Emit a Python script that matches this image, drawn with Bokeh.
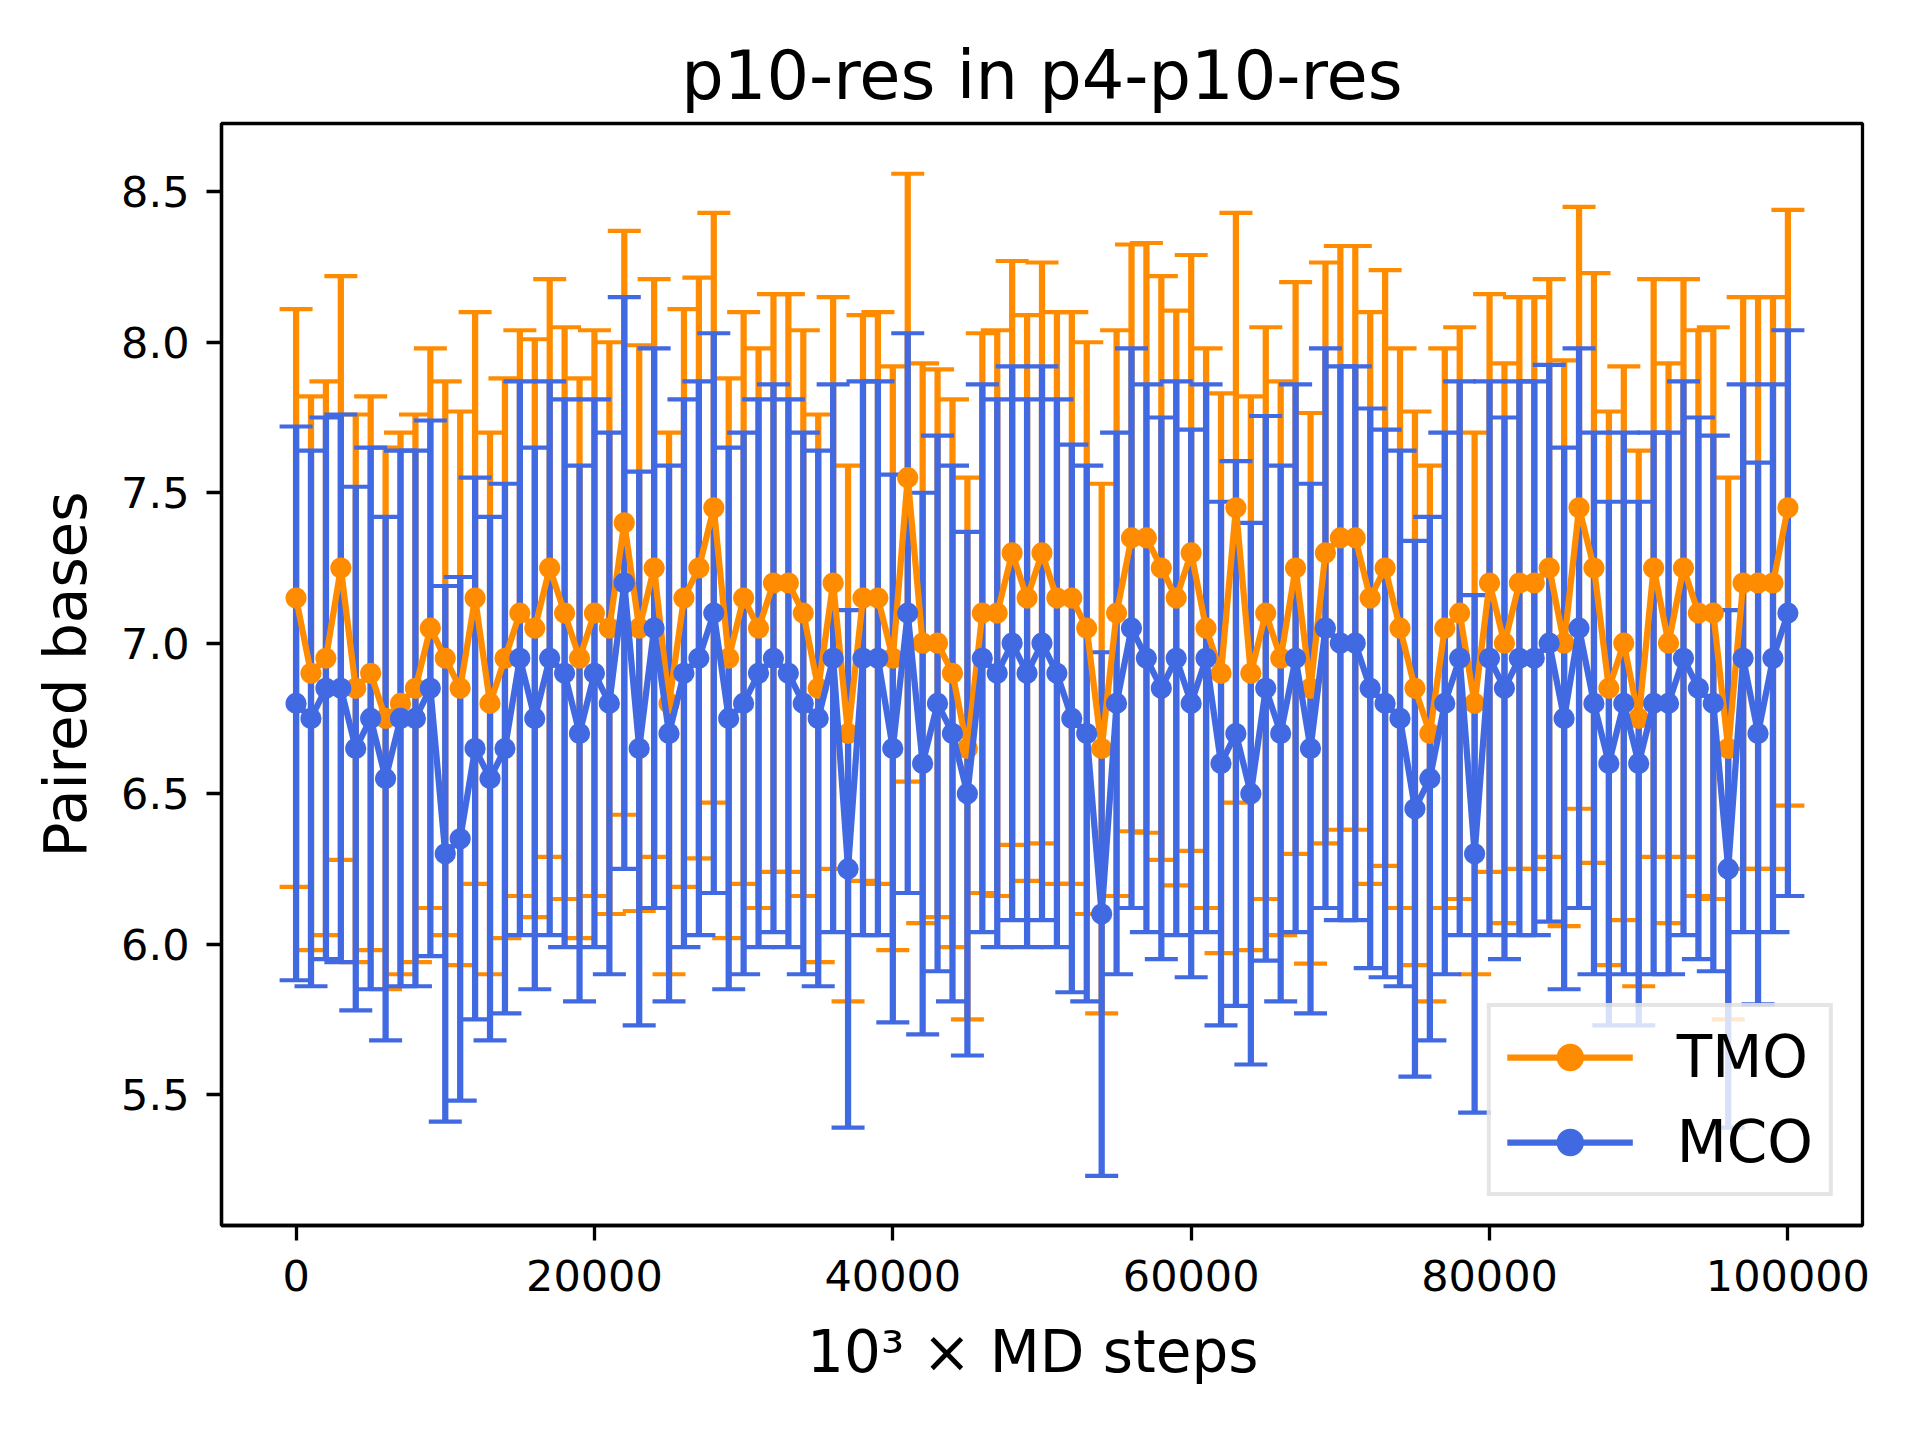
from bokeh.plotting import figure
from bokeh.models import Range1d, Legend, LegendItem, FixedTicker, BasicTickFormatter, PrintfTickFormatter, ColumnDataSource
from bokeh.embed import file_html
from bokeh.resources import INLINE

steps = list(range(0, 100001, 1000))

tmo_mean = [7.15, 6.90, 6.95, 7.25, 6.85, 6.90, 6.75, 6.80, 6.85, 7.05,
            6.95, 6.85, 7.15, 6.80, 6.95, 7.10, 7.05, 7.25, 7.10, 6.95,
            7.10, 7.05, 7.40, 7.05, 7.25, 6.80, 7.15, 7.25, 7.45, 6.95,
            7.15, 7.05, 7.20, 7.20, 7.10, 6.85, 7.20, 6.70, 7.15, 7.15,
            6.95, 7.55, 7.00, 7.00, 6.90, 6.65, 7.10, 7.10, 7.30, 7.15,
            7.30, 7.15, 7.15, 7.05, 6.65, 7.10, 7.35, 7.35, 7.25, 7.15,
            7.30, 7.05, 6.90, 7.45, 6.90, 7.10, 6.95, 7.25, 6.85, 7.30,
            7.35, 7.35, 7.15, 7.25, 7.05, 6.85, 6.70, 7.05, 7.10, 6.80,
            7.20, 7.00, 7.20, 7.20, 7.25, 7.00, 7.45, 7.25, 6.85, 7.00,
            6.75, 7.25, 7.00, 7.25, 7.10, 7.10, 6.65, 7.20, 7.20, 7.20,
            7.45]
tmo_std = [0.96, 0.92, 0.92, 0.97, 0.91, 0.92, 0.90, 0.90, 0.91, 0.93,
           0.92, 0.92, 0.95, 0.90, 0.93, 0.94, 0.96, 0.96, 0.95, 0.93,
           0.94, 0.95, 0.97, 0.94, 0.96, 0.90, 0.96, 0.965, 0.98, 0.93,
           0.95, 0.93, 0.96, 0.96, 0.94, 0.91, 0.95, 0.89, 0.94, 0.95,
           0.97, 1.01, 0.93, 0.91, 0.91, 0.90, 0.93, 0.94, 0.97, 0.94,
           0.965, 0.95, 0.95, 0.95, 0.88, 0.94, 0.975, 0.98, 0.97, 0.955,
           0.99, 0.93, 0.93, 0.98, 0.92, 0.95, 0.92, 0.95, 0.915, 0.965,
           0.97, 0.97, 0.95, 0.99, 0.93, 0.92, 0.89, 0.93, 0.95, 0.90,
           0.96, 0.93, 0.95, 0.95, 0.96, 0.94, 1.00, 0.98, 0.92, 0.92,
           0.89, 0.96, 0.93, 0.96, 0.94, 0.95, 0.90, 0.95, 0.95, 0.95,
           0.99]
mco_mean = [6.80, 6.75, 6.85, 6.85, 6.65, 6.75, 6.55, 6.75, 6.75, 6.85,
            6.30, 6.35, 6.65, 6.55, 6.65, 6.95, 6.75, 6.95, 6.90, 6.70,
            6.90, 6.80, 7.20, 6.65, 7.05, 6.70, 6.90, 6.95, 7.10, 6.75,
            6.80, 6.90, 6.95, 6.90, 6.80, 6.75, 6.95, 6.25, 6.95, 6.95,
            6.65, 7.10, 6.60, 6.80, 6.70, 6.50, 6.95, 6.90, 7.00, 6.90,
            7.00, 6.90, 6.75, 6.70, 6.10, 6.80, 7.05, 6.95, 6.85, 6.95,
            6.80, 6.95, 6.60, 6.70, 6.50, 6.85, 6.70, 6.95, 6.65, 7.05,
            7.00, 7.00, 6.85, 6.80, 6.75, 6.45, 6.55, 6.80, 6.95, 6.30,
            6.95, 6.85, 6.95, 6.95, 7.00, 6.75, 7.05, 6.80, 6.60, 6.80,
            6.60, 6.80, 6.80, 6.95, 6.85, 6.80, 6.25, 6.95, 6.70, 6.95,
            7.10]
mco_std = [0.92, 0.89, 0.90, 0.91, 0.87, 0.90, 0.87, 0.89, 0.89, 0.89,
           0.89, 0.87, 0.90, 0.87, 0.88, 0.92, 0.90, 0.92, 0.91, 0.89,
           0.91, 0.90, 0.95, 0.92, 0.93, 0.89, 0.91, 0.92, 0.93, 0.90,
           0.90, 0.91, 0.91, 0.91, 0.90, 0.89, 0.91, 0.86, 0.92, 0.92,
           0.91, 0.93, 0.90, 0.89, 0.89, 0.87, 0.91, 0.91, 0.92, 0.91,
           0.92, 0.91, 0.91, 0.89, 0.87, 0.90, 0.93, 0.91, 0.90, 0.92,
           0.91, 0.91, 0.87, 0.905, 0.90, 0.905, 0.89, 0.91, 0.88, 0.93,
           0.92, 0.92, 0.93, 0.91, 0.89, 0.89, 0.87, 0.90, 0.92, 0.86,
           0.92, 0.90, 0.92, 0.92, 0.925, 0.90, 0.93, 0.90, 0.87, 0.90,
           0.87, 0.90, 0.90, 0.92, 0.90, 0.89, 0.86, 0.91, 0.90, 0.91,
           0.94]

x_ticks = [0, 20000, 40000, 60000, 80000, 100000]
y_ticks = [5.5, 6.0, 6.5, 7.0, 7.5, 8.0, 8.5]

TMO_COLOR = "#ff8c00"
MCO_COLOR = "#4169e1"
FONT = "DejaVu Sans"


def make_source(mean, std):
    return ColumnDataSource(dict(
        x=steps, y=mean,
        lo=[m - s for m, s in zip(mean, std)],
        hi=[m + s for m, s in zip(mean, std)],
    ))


tmo_src = make_source(tmo_mean, tmo_std)
mco_src = make_source(mco_mean, mco_std)

p = figure(frame_width=1641, frame_height=1102,
           min_border_left=221, min_border_right=38,
           min_border_top=123, min_border_bottom=194,
           x_range=Range1d(-5000, 105000), y_range=Range1d(5.065, 8.727),
           output_backend="svg", toolbar_location=None,
           title="p10-res in p4-p10-res")

p.background_fill_color = "white"
p.border_fill_color = "white"
p.outline_line_color = "black"
p.outline_line_width = 3.3
p.xgrid.visible = False
p.ygrid.visible = False

p.title.text_font = FONT
p.title.text_font_size = "67px"
p.title.text_font_style = "normal"
p.title.text_color = "black"
p.title.align = "center"
p.title.standoff = 18

for ax in (p.xaxis[0], p.yaxis[0]):
    ax.axis_line_width = 3.3
    ax.axis_line_color = "black"
    ax.major_tick_line_width = 3.3
    ax.major_tick_line_color = "black"
    ax.major_tick_out = 15
    ax.major_tick_in = 0
    ax.minor_tick_line_color = None
    ax.major_label_text_font = FONT
    ax.major_label_text_font_size = "43px"
    ax.major_label_text_color = "black"
    ax.axis_label_text_font = FONT
    ax.axis_label_text_font_size = "58px"
    ax.axis_label_text_font_style = "normal"
    ax.axis_label_text_color = "black"

p.xaxis.major_label_standoff = 19
p.yaxis.major_label_standoff = 17
p.xaxis.ticker = FixedTicker(ticks=x_ticks)
p.yaxis.ticker = FixedTicker(ticks=y_ticks)
p.xaxis.formatter = BasicTickFormatter(use_scientific=False)
p.yaxis.formatter = PrintfTickFormatter(format="%.1f")
p.xaxis.axis_label = "10\u00b3 \u00d7  MD steps"
p.yaxis.axis_label = "Paired bases"
p.xaxis.axis_label_standoff = 24
p.yaxis.axis_label_standoff = 18

LW = 6.25
CAP_W = 4.17
CAP_SIZE = 33

renderers = {}
for name, src, col in (("TMO", tmo_src, TMO_COLOR), ("MCO", mco_src, MCO_COLOR)):
    p.segment(x0="x", y0="lo", x1="x", y1="hi", source=src, line_color=col, line_width=LW)
    p.scatter(x="x", y="hi", source=src, marker="dash", size=CAP_SIZE, line_color=col, line_width=CAP_W)
    p.scatter(x="x", y="lo", source=src, marker="dash", size=CAP_SIZE, line_color=col, line_width=CAP_W)

for name, src, col in (("TMO", tmo_src, TMO_COLOR), ("MCO", mco_src, MCO_COLOR)):
    ln = p.line(x="x", y="y", source=src, line_color=col, line_width=LW)
    sc = p.scatter(x="x", y="y", source=src, marker="circle", size=17,
                   fill_color=col, line_color=col, line_width=4.17)
    renderers[name] = [ln, sc]

legend = Legend(items=[LegendItem(label="TMO", renderers=renderers["TMO"]),
                       LegendItem(label="MCO", renderers=renderers["MCO"])],
                location="bottom_right")
legend.label_text_font = FONT
legend.label_text_font_size = "58px"
legend.label_text_color = "black"
legend.glyph_width = 126
legend.glyph_height = 58
legend.label_height = 58
legend.label_standoff = 44
legend.spacing = 17
legend.padding = 16
legend.margin = 29
legend.border_line_color = "#cccccc"
legend.border_line_width = 4.17
legend.background_fill_color = "white"
legend.background_fill_alpha = 0.8
p.add_layout(legend)

open("out.html", "w").write(file_html(p, INLINE))
